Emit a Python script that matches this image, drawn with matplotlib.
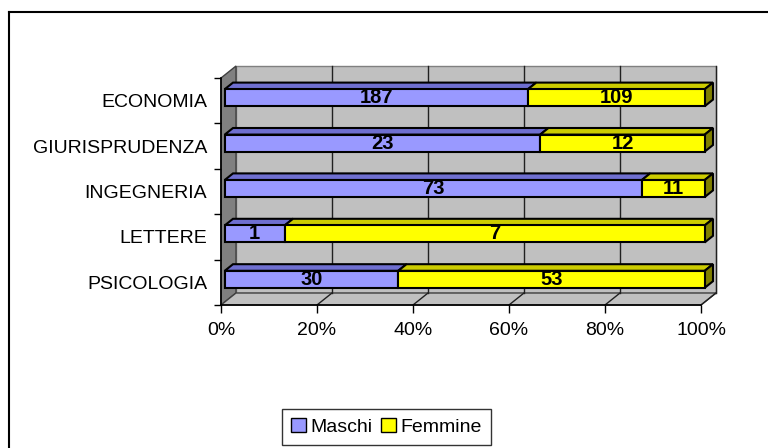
import matplotlib
matplotlib.use("Agg")
import matplotlib.pyplot as plt
from matplotlib.patches import Polygon, Rectangle, Patch
from matplotlib.lines import Line2D
import numpy as np

plt.rcParams['font.family'] = ['Liberation Sans', 'DejaVu Sans']

categories = ["ECONOMIA", "GIURISPRUDENZA", "INGEGNERIA", "LETTERE", "PSICOLOGIA"]
maschi = [187, 23, 73, 1, 30]
femmine = [109, 12, 11, 7, 53]
series_names = ["Maschi", "Femmine"]
xtick_vals = [0, 20, 40, 60, 80, 100]
xtick_labels = ["0%", "20%", "40%", "60%", "80%", "100%"]

W, H = 768, 448
fig = plt.figure(figsize=(W / 100, H / 100), dpi=100)

# front plane of the 3D plot in pixels
x0p, x1p, ytop, ybot = 221, 701, 78, 305
ax = fig.add_axes([x0p / W, 1 - ybot / H, (x1p - x0p) / W, (ybot - ytop) / H])
n = len(categories)
ax.set_xlim(0, 100)
ax.set_ylim(-0.5, n - 0.5)
for s in ax.spines.values():
    s.set_visible(False)
ax.patch.set_visible(False)

px_x = 100 / (x1p - x0p)
px_y = n / (ybot - ytop)
DX = 15 * px_x
DY = 12 * px_y

wall = '#C0C0C0'
side_wall = '#808080'
# back wall
ax.add_patch(Polygon([(DX, -0.5 + DY), (100 + DX, -0.5 + DY), (100 + DX, n - 0.5 + DY), (DX, n - 0.5 + DY)],
                     closed=True, facecolor=wall, edgecolor='#808080', lw=1, clip_on=False, zorder=1))
# left wall
ax.add_patch(Polygon([(0, -0.5), (DX, -0.5 + DY), (DX, n - 0.5 + DY), (0, n - 0.5)],
                     closed=True, facecolor=side_wall, edgecolor='#404040', lw=1, clip_on=False, zorder=1))
# floor
ax.add_patch(Polygon([(0, -0.5), (100, -0.5), (100 + DX, -0.5 + DY), (DX, -0.5 + DY)],
                     closed=True, facecolor=wall, edgecolor='#404040', lw=1, clip_on=False, zorder=1))
# gridlines
for v in xtick_vals[1:]:
    ax.plot([v + DX, v + DX], [-0.5 + DY, n - 0.5 + DY], color='#202020', lw=1, clip_on=False, zorder=2)
    ax.plot([v, v + DX], [-0.5, -0.5 + DY], color='#202020', lw=1, clip_on=False, zorder=2)

# front axes lines
ax.plot([0, 100], [-0.5, -0.5], color='black', lw=1.2, clip_on=False, zorder=3)
ax.plot([0, 0], [-0.5, n - 0.5], color='black', lw=1.2, clip_on=False, zorder=3)

# ticks
ax.set_xticks(xtick_vals)
ax.set_xticklabels(xtick_labels, fontsize=14)
ax.tick_params(axis='x', direction='out', length=6, width=1, pad=6)
ax.set_yticks(np.arange(n + 1) - 0.5)
ax.set_yticklabels([])
ax.set_yticks(np.arange(n), minor=True)
ax.set_yticklabels(categories[::-1], minor=True, fontsize=14)
ax.tick_params(axis='y', which='major', direction='out', length=5, width=1)
ax.tick_params(axis='y', which='minor', length=0, pad=10)

# bars
f0, f1 = 0.25, 0.8
bh = 17 * px_y
colors = [('#9999FF', '#6F6FD0', '#4C4C99'), ('#FFFF00', '#CCCC00', '#808000')]
for i, cat in enumerate(categories):
    yc = n - 1 - i
    tot = maschi[i] + femmine[i]
    vals = [maschi[i] / tot * 100, femmine[i] / tot * 100]
    counts = [maschi[i], femmine[i]]
    left = 0
    ox0, oy0 = f0 * DX, f0 * DY
    ox1, oy1 = f1 * DX, f1 * DY
    yb = yc - bh / 2 + oy0
    yt = yc + bh / 2 + oy0
    for k in range(2):
        w = vals[k]
        fc, tc, sc = colors[k]
        xa = left + ox0
        xb = left + w + ox0
        # top face
        ax.add_patch(Polygon([(xa, yt), (xb, yt), (xb + ox1 - ox0, yt + oy1 - oy0), (xa + ox1 - ox0, yt + oy1 - oy0)],
                             closed=True, facecolor=tc, edgecolor='black', lw=1.5, clip_on=False, zorder=4))
        # front face
        ax.add_patch(Rectangle((xa, yb), w, bh, facecolor=fc, edgecolor='black', lw=1.5, clip_on=False, zorder=5))
        if k == 1:
            ax.add_patch(Polygon([(xb, yb), (xb, yt), (xb + ox1 - ox0, yt + oy1 - oy0), (xb + ox1 - ox0, yb + oy1 - oy0)],
                                 closed=True, facecolor=sc, edgecolor='black', lw=1.5, clip_on=False, zorder=4))
        ax.text(xa + w / 2, yc + oy0, str(counts[k]), ha='center', va='center', fontsize=14.5,
                fontweight='bold', color='black', zorder=6)
        left += w

# legend
handles = [Patch(facecolor=colors[0][0], edgecolor='black', lw=1),
           Patch(facecolor=colors[1][0], edgecolor='black', lw=1)]
leg = fig.legend(handles, series_names, loc='center', bbox_to_anchor=(386.5 / W, 1 - 427 / H), ncol=2,
                 fontsize=14, frameon=True, fancybox=False, handlelength=0.75, handleheight=0.75,
                 handletextpad=0.25, columnspacing=0.45, borderpad=0.45, borderaxespad=0)
leg.get_frame().set_edgecolor('black')
leg.get_frame().set_linewidth(1)

# outer chart frame (partially visible)
fig.add_artist(Line2D([8.5 / W, 8.5 / W], [0, 1 - 12 / H], color='black', lw=1.5))
fig.add_artist(Line2D([8.5 / W, 1], [1 - 12 / H, 1 - 12 / H], color='black', lw=1.5))

fig.savefig("out.png", dpi=100)
